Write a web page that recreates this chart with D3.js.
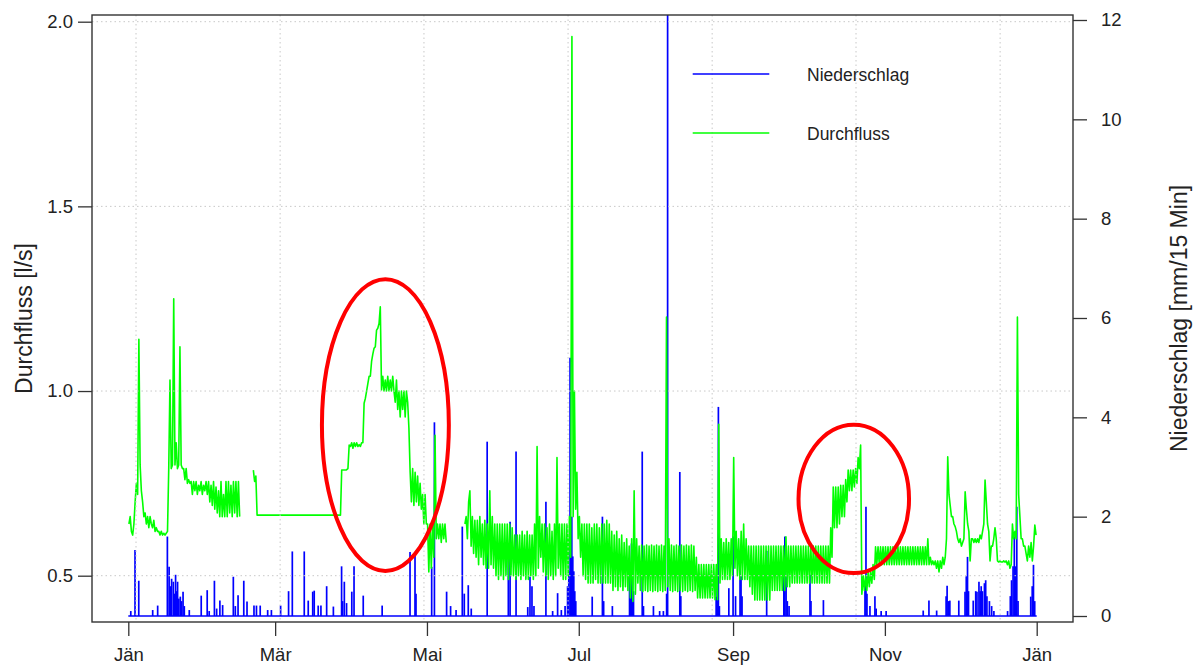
<!DOCTYPE html>
<html lang="de">
<head>
<meta charset="UTF-8">
<title>Durchfluss und Niederschlag</title>
<script src="https://d3js.org/d3.v7.min.js"></script>
<style>
    body { margin: 0; background: #fff; font-family: "Liberation Sans", Arial, sans-serif; }
    svg text { fill: #222; }
    .grid line { stroke: #c8c8c8; stroke-width: 1; stroke-dasharray: 1.5 3; }
    .axis path { display: none; }
    .axis line { stroke: #333; stroke-width: 1.3; }
    .axis text { font-size: 18.5px; font-family: "Liberation Sans", Arial, sans-serif; fill: #222; }
</style>
</head>
<body>
<svg id="chart" width="1198" height="666"></svg>
<script>
// time axis: one year, day 0 = 1 Jan
const yearStart = "2015-01-01";
const monthTicks = ["2015-01-01", "2015-03-01", "2015-05-01", "2015-07-01", "2015-09-01", "2015-11-01", "2016-01-01"];
const monthLabels = ["Jän", "Mär", "Mai", "Jul", "Sep", "Nov", "Jän"];
const flowTicks = [0.5, 1.0, 1.5, 2.0];
const rainTicks = [0, 2, 4, 6, 8, 10, 12];
// vertical grid positions (day of year)
const gridDays = [3.1, 61.0, 118.8, 176.7, 234.6, 292.4, 350.3];

// Durchfluss [l/s]: per day either one value, or two values in time order, null = no data
const flowDaily = [
    [.64,.66],[.62,.61],[.64,.70],[.75,.72],[1.14,.80],[.73,.70],[.66,.67],[.64,.66],[.63,.66],[.64,.63],
    [.65,.62],[.63,.62],[.62,.61],[.62,.61],[.615,.61],[.615,.62],[.79,1.03],[.79,.80],[1.25,.80],[.86,.79],
    [.80,1.12],[.80,.79],[.79,.76],[.79,.75],[.76,.75],[.755,.72],[.755,.73],[.755,.72],[.745,.73],[.755,.72],
    [.745,.73],[.755,.72],[.755,.70],[.745,.69],[.755,.68],[.74,.67],[.73,.66],[.755,.66],[.72,.66],[.755,.66],
    [.755,.67],[.745,.66],[.755,.67],[.755,.66],[.755,.66],null,null,null,null,null,
    [.786,.755],[.77,.664],.664,.664,.664,.664,.664,.664,.664,.664,
    .664,.664,.664,.664,.664,.664,.664,.664,.664,.664,
    .664,.664,.664,.664,.664,.664,.664,.664,.664,.664,
    .664,.664,.664,.664,.664,[.664,.786],.786,.786,[.79,.854],[.85,.86],
    [.845,.86],[.85,.86],[.85,.855],[.85,.86],[.86,.967],[.98,1.0],[1.02,1.04],[1.04,1.08],[1.10,1.116],[1.12,1.165],
    [1.17,1.183],[1.228,1.003],[1.04,1.0],[1.03,1.0],[1.04,1.0],[1.03,1.0],[1.04,1.0],[.97,1.03],[.95,1.0],[.93,1.0],
    [.95,1.0],[.93,1.0],[.97,.90],[.78,.70],[.79,.69],[.78,.70],[.77,.69],[.75,.68],[.72,.64],[.72,.64],
    [.64,.51],[.64,.52],[.64,.55],[.88,.60],[.64,.60],[.64,.59],[.64,.60],[.64,.59],null,null,
    null,null,null,null,null,[.64,.66],[.60,.70],[.73,.58],[.66,.56],[.65,.55],
    [.65,.53],[.66,.55],[.64,.53],[.65,.52],[.64,.52],[.73,.53],[.66,.52],[.64,.50],[.64,.49],[.64,.50],
    [.64,.49],[.64,.50],[.64,.49],[.64,.50],[.63,.50],[.61,.49],[.61,.50],[.61,.49],[.62,.50],[.61,.49],
    [.62,.49],[.61,.50],[.61,.49],[.64,.50],[.85,.52],[.66,.55],[.64,.51],[.64,.50],[.63,.49],[.64,.50],
    [.62,.49],[.64,.50],[.82,.52],[.64,.50],[.64,.49],[.64,.49],[.64,.50],[.66,.55],[1.96,.66],[1.00,.68],
    [.78,.60],[.66,.55],[.64,.50],[.64,.49],[.64,.48],[.64,.48],[.63,.48],[.64,.49],[.64,.48],[.63,.48],
    [.64,.48],[.64,.48],[.65,.48],[.64,.48],[.62,.46],[.61,.47],[.62,.46],[.60,.47],[.61,.46],[.59,.47],
    [.60,.46],[.58,.44],[.60,.43],[.73,.45],[.60,.48],[.58,.46],[.583,.457],[.58,.46],[.583,.457],[.58,.46],
    [.583,.457],[.58,.46],[.583,.457],[.58,.46],[.583,.457],[.58,.46],[1.20,.47],[.60,.46],[.583,.457],[.58,.46],
    [.583,.457],[.58,.46],[.583,.457],[.58,.46],[.583,.457],[.58,.46],[.583,.457],[.58,.46],[.55,.44],[.53,.44],
    [.53,.44],[.53,.44],[.53,.44],[.53,.44],[.53,.44],[.53,.435],[.53,.435],[.91,.48],[.60,.49],[.59,.49],
    [.60,.49],[.59,.49],[.60,.50],[.82,.52],[.62,.50],[.60,.49],[.62,.49],[.64,.49],[.60,.49],[.58,.47],
    [.58,.45],[.58,.434],[.58,.434],[.58,.434],[.58,.434],[.58,.434],[.58,.434],[.58,.434],[.58,.46],[.58,.46],
    [.58,.46],[.58,.46],[.58,.46],[.58,.46],[.605,.47],[.58,.47],[.58,.48],[.58,.48],[.58,.48],[.58,.48],
    [.58,.48],[.58,.48],[.58,.48],[.58,.48],[.58,.48],[.58,.48],[.58,.48],[.58,.48],[.58,.48],[.58,.48],
    [.58,.48],[.58,.48],[.63,.55],[.74,.63],[.74,.63],[.74,.64],[.745,.66],[.745,.66],[.76,.70],[.786,.73],
    [.786,.73],[.786,.74],[.79,.75],[.82,.79],[.854,.45],[.50,.46],[.50,.46],[.51,.47],[.51,.48],[.53,.49],
    [.578,.53],[.578,.53],[.578,.53],[.578,.53],[.578,.53],[.578,.53],[.578,.53],[.578,.53],[.578,.53],[.578,.53],
    [.578,.53],[.578,.53],[.578,.53],[.578,.53],[.578,.53],[.578,.53],[.578,.53],[.578,.53],[.578,.53],[.578,.53],
    [.578,.53],[.60,.53],[.55,.53],[.54,.53],[.54,.52],[.54,.51],[.54,.52],[.55,.53],[.55,.60],[.822,.72],
    [.69,.66],[.66,.64],[.633,.62],[.60,.59],[.60,.58],[.59,.60],[.727,.68],[.64,.62],[.54,.60],[.60,.59],
    [.60,.59],[.60,.59],[.61,.60],[.62,.64],[.759,.70],[.64,.62],[.54,.58],[.58,.60],[.63,.60],[.54,.537],
    [.54,.537],[.537,.54],[.537,.54],[.53,.54],[.52,.53],[.64,.60],[.62,.60],[1.20,.72],[.66,.60],[.60,.58],
    [.58,.56],[.54,.58],[.55,.59],[.54,.58],[.637,.61]
];

// Niederschlag [mm/15 Min]: [day of year, value] of the peaks, baseline is 0
const rainSpikes = [
    [1.0,0.1],[2.7,1.33],[4.2,0.71],[9.8,0.12],[11.8,0.21],[15.7,1.6],[16.4,0.99],[16.9,0.6],[17.4,0.75],[18.1,0.69],
    [18.6,0.45],[19.0,0.83],[19.4,0.5],[19.8,0.69],[20.3,0.35],[20.9,0.39],[21.4,0.3],[22.0,0.49],[22.5,0.2],[24.5,0.12],
    [29.3,0.41],[31.7,0.52],[32.5,0.1],[34.6,0.71],[35.5,0.15],[36.8,0.31],[37.9,0.22],[42.2,0.79],[43.0,0.2],[44.1,0.42],
    [46.4,0.71],[47.7,0.29],[50.5,0.21],[51.5,0.21],[53.0,0.21],[56.0,0.12],[57.5,0.12],[61.2,0.21],[64.4,0.5],[65.9,1.3],
    [70.7,1.3],[72.3,0.31],[74.1,0.49],[74.7,0.51],[76.3,0.21],[77.4,0.21],[79.7,0.6],[82.4,0.19],[85.7,1.0],[86.1,0.3],
    [86.8,0.69],[87.7,0.26],[89.8,0.49],[90.7,1.0],[94.4,0.41],[102.0,0.21],[113.2,1.29],[115.2,1.29],[115.6,0.45],[121.9,0.99],
    [123.0,3.9],[127.9,0.49],[129.5,0.2],[131.7,0.12],[134.2,1.8],[135.0,0.45],[136.6,0.62],[137.8,0.15],[144.2,3.51],[152.7,1.27],
    [153.4,1.9],[155.8,3.31],[160.5,0.18],[161.4,0.79],[162.2,0.6],[163.0,0.2],[167.8,2.3],[170.5,0.1],[172.5,0.46],[174.0,0.12],
    [175.5,0.2],[176.5,0.6],[177.0,0.9],[177.5,5.2],[177.8,1.6],[178.2,2.0],[178.6,1.2],[179.0,0.9],[179.4,0.5],[179.8,0.3],
    [186.4,0.39],[190.5,2.0],[191.0,0.3],[194.5,0.2],[201.4,1.0],[201.8,0.7],[202.2,1.46],[202.6,1.0],[203.0,0.5],[206.5,3.31],
    [207.0,0.2],[211.0,0.2],[213.5,0.1],[215.0,0.1],[216.3,0.45],[216.7,12.5],[221.6,2.9],[222.0,0.4],[236.2,0.39],[236.6,0.93],
    [237.1,4.21],[237.5,0.2],[241.3,0.56],[243.0,1.6],[244.0,0.4],[245.8,1.09],[246.2,0.8],[246.6,0.4],[256.5,1.31],[263.4,0.8],
    [263.8,1.6],[264.3,0.79],[264.8,0.3],[265.5,0.2],[273.9,0.83],[274.3,0.3],[279.3,0.32],[296.0,0.6],[296.4,2.2],[296.8,0.45],
    [298.0,0.2],[300.0,0.4],[300.5,0.15],[302.5,0.1],[304.5,0.1],[319.4,0.11],[321.7,0.31],[324.8,0.11],[328.6,0.4],[329.0,0.61],
    [329.5,0.3],[330.1,0.31],[333.7,0.31],[336.2,0.49],[336.7,0.8],[337.2,1.19],[337.6,0.5],[339.5,0.31],[340.5,0.5],[341.0,0.49],
    [341.8,0.69],[342.3,0.5],[342.7,0.6],[343.2,0.5],[344.0,0.66],[344.5,0.72],[345.0,0.4],[346.0,0.3],[346.9,0.2],[347.8,0.1],
    [353.3,0.1],[354.4,0.4],[354.9,0.72],[355.5,1.0],[356.0,1.6],[356.6,1.0],[357.0,2.2],[357.5,0.3],[362.6,0.39],[363.2,0.6],
    [363.7,1.03],[364.2,0.3]
];

// red ellipses drawn on the chart: centre (day, l/s) and half axes
const markDays = [103.3, 291.5];
const markValues = [0.908, 0.708];
const markHalfDays = [25.5, 22.2];
const markHalfValues = [0.395, 0.201];

const t0 = new Date(yearStart + "T00:00:00Z").getTime();
const dayToDate = d => new Date(t0 + d * 864e5);
const parseDay = d3.utcParse("%Y-%m-%d");

// plot box
const box = { left: 92, right: 1073, top: 15, bottom: 622 };

const svg = d3.select("#chart");

const x = d3.scaleUtc()
    .domain([dayToDate(0), dayToDate(365)])
    .range([128.3, 1036.7]);

const yQ = d3.scaleLinear().domain([0.5, 2.0]).range([575.7, 21.7]);
const yP = d3.scaleLinear().domain([0, 12]).range([616, 20]);

svg.append("defs").append("clipPath").attr("id", "plotClip")
    .append("rect")
    .attr("x", box.left).attr("y", box.top)
    .attr("width", box.right - box.left).attr("height", box.bottom - box.top);

const plot = svg.append("g").attr("clip-path", "url(#plotClip)");

// precipitation: baseline + spikes
plot.append("line")
    .attr("x1", x(dayToDate(0))).attr("x2", x(dayToDate(365)))
    .attr("y1", yP(0)).attr("y2", yP(0))
    .attr("stroke", "#0000ff").attr("stroke-width", 1.6);

plot.append("g").selectAll("line")
    .data(rainSpikes)
    .join("line")
    .attr("x1", d => x(dayToDate(d[0])))
    .attr("x2", d => x(dayToDate(d[0])))
    .attr("y1", yP(0))
    .attr("y2", d => yP(d[1]))
    .attr("stroke", "#0000ff")
    .attr("stroke-width", 1.7);

// discharge line
const flowPoints = [];
flowDaily.forEach((e, i) => {
    if (e === null) flowPoints.push({ day: i + 0.5, v: null });
    else if (Array.isArray(e)) {
        flowPoints.push({ day: i + 0.25, v: e[0] });
        flowPoints.push({ day: i + 0.75, v: e[1] });
    } else flowPoints.push({ day: i + 0.5, v: e });
});

const flowLine = d3.line()
    .defined(p => p.v !== null)
    .x(p => x(dayToDate(p.day)))
    .y(p => yQ(p.v));

plot.append("path")
    .datum(flowPoints)
    .attr("fill", "none")
    .attr("stroke", "#00ff00")
    .attr("stroke-width", 1.6)
    .attr("stroke-linejoin", "round")
    .attr("d", flowLine);

// grid (dotted, drawn over the data like R's grid())
const grid = svg.append("g").attr("class", "grid");
grid.selectAll(".h").data(flowTicks).join("line")
    .attr("class", "h")
    .attr("x1", box.left).attr("x2", box.right)
    .attr("y1", d => yQ(d)).attr("y2", d => yQ(d));
grid.selectAll(".v").data(gridDays).join("line")
    .attr("class", "v")
    .attr("x1", d => x(dayToDate(d))).attr("x2", d => x(dayToDate(d)))
    .attr("y1", box.top).attr("y2", box.bottom);

// red ellipses
svg.append("g").selectAll("ellipse")
    .data(markDays)
    .join("ellipse")
    .attr("cx", d => x(dayToDate(d)))
    .attr("cy", (d, i) => yQ(markValues[i]))
    .attr("rx", (d, i) => x(dayToDate(d + markHalfDays[i])) - x(dayToDate(d)))
    .attr("ry", (d, i) => yQ(markValues[i] - markHalfValues[i]) - yQ(markValues[i]))
    .attr("fill", "none")
    .attr("stroke", "#ff0000")
    .attr("stroke-width", 4);

// frame
svg.append("rect")
    .attr("x", box.left).attr("y", box.top)
    .attr("width", box.right - box.left).attr("height", box.bottom - box.top)
    .attr("fill", "none").attr("stroke", "#333").attr("stroke-width", 1.4);

// axes
svg.append("g").attr("class", "axis")
    .attr("transform", `translate(0,${box.bottom})`)
    .call(d3.axisBottom(x)
        .tickValues(monthTicks.map(parseDay))
        .tickFormat((d, i) => monthLabels[i])
        .tickSize(14).tickPadding(12));

svg.append("g").attr("class", "axis")
    .attr("transform", `translate(${box.left},0)`)
    .call(d3.axisLeft(yQ)
        .tickValues(flowTicks)
        .tickFormat(d3.format(".1f"))
        .tickSize(14).tickPadding(5));

svg.append("g").attr("class", "axis")
    .attr("transform", `translate(${box.right},0)`)
    .call(d3.axisRight(yP)
        .tickValues(rainTicks)
        .tickFormat(d3.format("d"))
        .tickSize(14).tickPadding(14));

// axis titles
svg.append("text")
    .attr("transform", "translate(32,318.5) rotate(-90)")
    .attr("text-anchor", "middle")
    .style("font-size", "23px")
    .text("Durchfluss [l/s]");

svg.append("text")
    .attr("transform", "translate(1187,318.5) rotate(-90)")
    .attr("text-anchor", "middle")
    .style("font-size", "23px")
    .text("Niederschlag [mm/15 Min]");

// legend
const legendItems = [
    { label: "Niederschlag", color: "#0000ff", y: 74 },
    { label: "Durchfluss", color: "#00ff00", y: 133 }
];
const legend = svg.append("g");
legend.selectAll("line").data(legendItems).join("line")
    .attr("x1", 692.7).attr("x2", 769.3)
    .attr("y1", d => d.y).attr("y2", d => d.y)
    .attr("stroke", d => d.color).attr("stroke-width", 1.5);
legend.selectAll("text").data(legendItems).join("text")
    .attr("x", 807).attr("y", d => d.y + 6.5)
    .style("font-size", "17.5px")
    .text(d => d.label);
</script>
</body>
</html>
